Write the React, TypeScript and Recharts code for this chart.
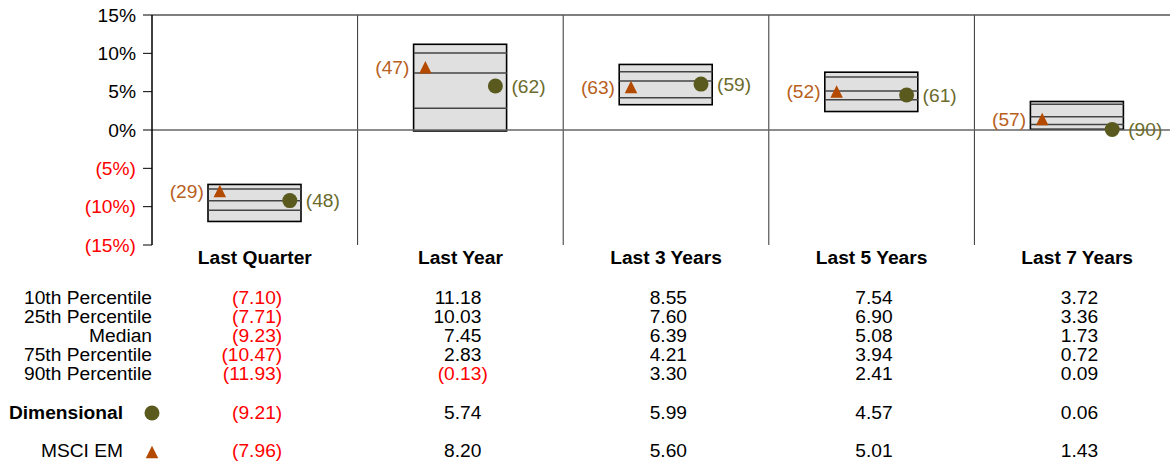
import { ComposedChart, Bar, Scatter, XAxis, YAxis, CartesianGrid, ReferenceLine } from "recharts"

const categories = ["Last Quarter", "Last Year", "Last 3 Years", "Last 5 Years", "Last 7 Years"]
const p10 = [-7.1, 11.18, 8.55, 7.54, 3.72]
const p25 = [-7.71, 10.03, 7.6, 6.9, 3.36]
const median = [-9.23, 7.45, 6.39, 5.08, 1.73]
const p75 = [-10.47, 2.83, 4.21, 3.94, 0.72]
const p90 = [-11.93, -0.13, 3.3, 2.41, 0.09]
const dimensional = [-9.21, 5.74, 5.99, 4.57, 0.06]
const dimensionalRank = [48, 62, 59, 61, 90]
const msciEm = [-7.96, 8.2, 5.6, 5.01, 1.43]
const msciEmRank = [29, 47, 63, 52, 57]
const yTicks = [-15, -10, -5, 0, 5, 10, 15]

const percentileRows = [
  { label: "10th Percentile", values: p10 },
  { label: "25th Percentile", values: p25 },
  { label: "Median", values: median },
  { label: "75th Percentile", values: p75 },
  { label: "90th Percentile", values: p90 },
]

const data = categories.map((name, i) => ({
  name,
  p10: p10[i],
  p25: p25[i],
  median: median[i],
  p75: p75[i],
  p90: p90[i],
  dim: dimensional[i],
  dimRank: dimensionalRank[i],
  msci: msciEm[i],
  msciRank: msciEmRank[i],
}))

const W = 1180
const H = 462
const Y_W = 152
const X_H = 217
const BAND = (W - Y_W) / categories.length
const BOX = 93
const FONT = '"Liberation Sans", Arial, Helvetica, sans-serif'
const FS = 19.2
const RED = "#ff0000"
const OLIVE = "#5a5a1e"
const OLIVE_TXT = "#6b6b2c"
const RUST = "#b34a00"
const RUST_TXT = "#b8601d"

function Value({ x, y, v }: { x: number; y: number; v: number }) {
  const neg = v < 0
  return (
    <g fontFamily={FONT} fontSize={FS}>
      <text x={x} y={y} textAnchor="end" fill={neg ? RED : "#000"}>
        {neg ? "(" + Math.abs(v).toFixed(2) : v.toFixed(2)}
      </text>
      {neg && (
        <text x={x} y={y} fill={RED}>
          )
        </text>
      )}
    </g>
  )
}

function Triangle({ cx, cy, size }: { cx: number; cy: number; size: number }) {
  const h = size
  return (
    <polygon
      points={`${cx},${cy - h / 2} ${cx + size / 2},${cy + h / 2} ${cx - size / 2},${cy + h / 2}`}
      fill={RUST}
    />
  )
}

const XTick = (props: any) => {
  const { x, y, payload } = props
  const i = payload.index
  const vx = x + 21
  return (
    <g>
      <text x={x} y={y + 19} textAnchor="middle" fontFamily={FONT} fontSize={FS} fontWeight="bold" fill="#000">
        {payload.value}
      </text>
      {percentileRows.map((r, k) => (
        <Value key={r.label} x={vx} y={y + 59 + k * 19.1} v={r.values[i]} />
      ))}
      <Value x={vx} y={y + 174} v={dimensional[i]} />
      <Value x={vx} y={y + 212} v={msciEm[i]} />
      {i === 0 && (
        <g fontFamily={FONT} fontSize={FS} fill="#000">
          {percentileRows.map((r, k) => (
            <text key={r.label} x={x - BAND / 2} y={y + 59 + k * 19.1} textAnchor="end">
              {r.label}
            </text>
          ))}
          <text x={x - BAND / 2 - 29} y={y + 174} textAnchor="end" fontWeight="bold">
            Dimensional
          </text>
          <circle cx={x - BAND / 2} cy={y + 168} r={7.5} fill={OLIVE} />
          <text x={x - BAND / 2 - 29} y={y + 212} textAnchor="end">
            MSCI EM
          </text>
          <Triangle cx={x - BAND / 2} cy={y + 207} size={12.5} />
        </g>
      )}
    </g>
  )
}

const YTick = (props: any) => {
  const { x, y, payload } = props
  const v = payload.value
  const neg = v < 0
  return (
    <text x={x} y={y} dy="0.35em" textAnchor="end" fontFamily={FONT} fontSize={FS} fill={neg ? RED : "#000"}>
      {neg ? `(${Math.abs(v)}%)` : `${v}%`}
    </text>
  )
}

const BoxShape = (props: any) => {
  const { x, y, width, height } = props
  return (
    <rect
      x={x}
      y={Math.min(y, y + height)}
      width={width}
      height={Math.abs(height)}
      fill="#e0e0e0"
      stroke="#000"
      strokeWidth={1.6}
    />
  )
}

const LevelLine = (props: any) => {
  const { cx, cy } = props
  return <line x1={cx - BOX / 2} x2={cx + BOX / 2} y1={cy} y2={cy} stroke="#444" strokeWidth={1.5} />
}

const DimDot = (props: any) => {
  const { cx, cy, payload } = props
  const px = cx + 35
  return (
    <g>
      <circle cx={px} cy={cy} r={7.5} fill={OLIVE} />
      <text x={px + 16} y={cy} dy="0.35em" fontFamily={FONT} fontSize={FS} fill={OLIVE_TXT}>
        ({payload.dimRank})
      </text>
    </g>
  )
}

const MsciMark = (props: any) => {
  const { cx, cy, payload } = props
  const px = cx - 35
  return (
    <g>
      <Triangle cx={px} cy={cy} size={12.5} />
      <text x={px - 16} y={cy} dy="0.35em" textAnchor="end" fontFamily={FONT} fontSize={FS} fill={RUST_TXT}>
        ({payload.msciRank})
      </text>
    </g>
  )
}

export default function App() {
  return (
    <div style={{ position: "absolute", left: 0, top: 0, width: 1170, height: H, overflow: "hidden", background: "#fff" }}>
      <ComposedChart width={W} height={H} data={data} margin={{ top: 15, right: 0, bottom: 0, left: 0 }}>
        <CartesianGrid
          horizontal={false}
          stroke="#333"
          verticalCoordinatesGenerator={(p: any) => {
            const left = p?.offset?.left ?? Y_W
            const w = p?.offset?.width ?? W - Y_W
            return [1, 2, 3, 4].map((k) => left + (k * w) / categories.length)
          }}
        />
        <ReferenceLine y={15} stroke="#555" strokeWidth={1.5} />
        <ReferenceLine y={0} stroke="#666" strokeWidth={1.5} />
        <XAxis
          dataKey="name"
          height={X_H}
          axisLine={false}
          tickLine={false}
          tickSize={0}
          tickMargin={0}
          interval={0}
          tick={<XTick />}
        />
        <YAxis
          type="number"
          width={Y_W}
          domain={[-15, 15]}
          ticks={yTicks}
          interval={0}
          axisLine={{ stroke: "#000", strokeWidth: 1.5 }}
          tickLine={{ stroke: "#000" }}
          tickSize={9}
          tickMargin={7}
          tick={<YTick />}
        />
        <Bar dataKey={(d: any) => [d.p90, d.p10]} barSize={BOX} shape={<BoxShape />} isAnimationActive={false} />
        <Scatter dataKey="p25" shape={<LevelLine />} isAnimationActive={false} />
        <Scatter dataKey="median" shape={<LevelLine />} isAnimationActive={false} />
        <Scatter dataKey="p75" shape={<LevelLine />} isAnimationActive={false} />
        <Scatter dataKey="msci" shape={<MsciMark />} isAnimationActive={false} />
        <Scatter dataKey="dim" shape={<DimDot />} isAnimationActive={false} />
      </ComposedChart>
    </div>
  )
}
